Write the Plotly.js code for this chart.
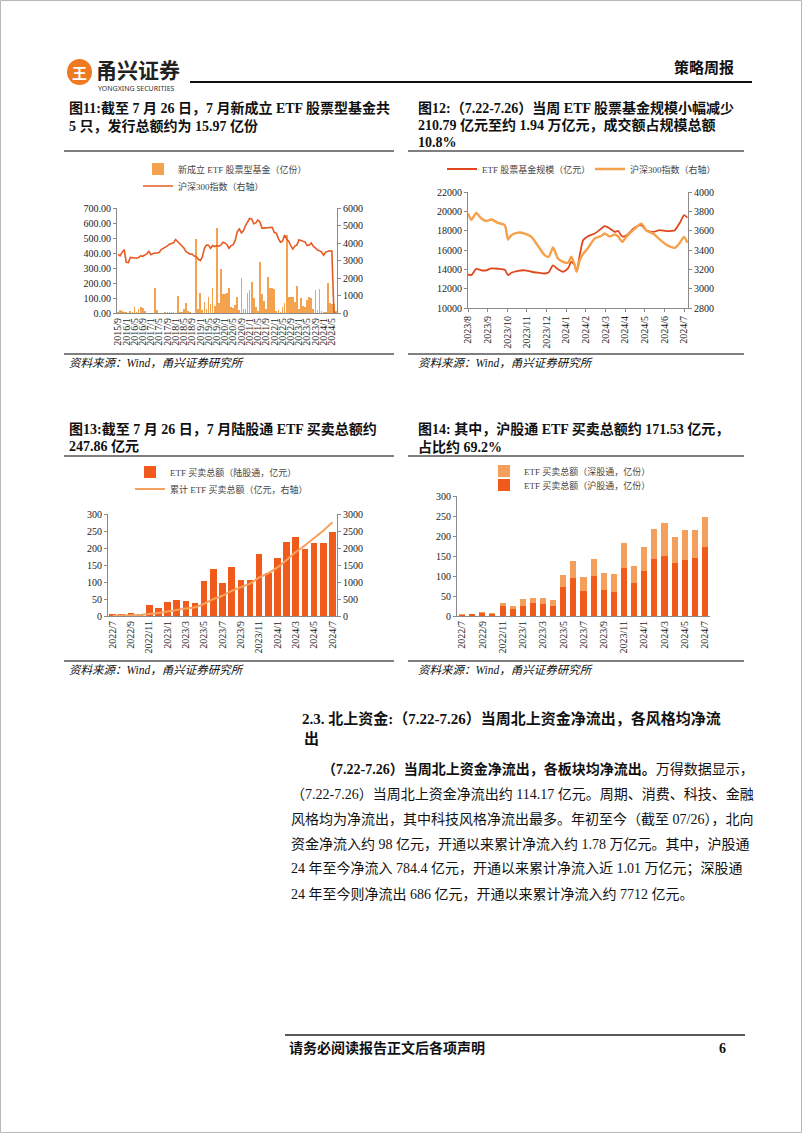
<!DOCTYPE html>
<html><head><meta charset="utf-8">
<script src="https://cdn.plot.ly/plotly-3.0.1.min.js"></script>
<style>html,body{margin:0;padding:0;background:#fff}#page{width:802px;height:1133px}</style>
</head><body><div id="page"></div>
<script>
// ---------- Figure 11: monthly new equity ETFs vs CSI300 ----------
const etfMonths = ['2015/9','2015/10','2015/11','2015/12',
 '2016/1','2016/2','2016/3','2016/4','2016/5','2016/6','2016/7','2016/8','2016/9','2016/10','2016/11','2016/12',
 '2017/1','2017/2','2017/3','2017/4','2017/5','2017/6','2017/7','2017/8','2017/9','2017/10','2017/11','2017/12',
 '2018/1','2018/2','2018/3','2018/4','2018/5','2018/6','2018/7','2018/8','2018/9','2018/10','2018/11','2018/12',
 '2019/1','2019/2','2019/3','2019/4','2019/5','2019/6','2019/7','2019/8','2019/9','2019/10','2019/11','2019/12',
 '2020/1','2020/2','2020/3','2020/4','2020/5','2020/6','2020/7','2020/8','2020/9','2020/10','2020/11','2020/12',
 '2021/1','2021/2','2021/3','2021/4','2021/5','2021/6','2021/7','2021/8','2021/9','2021/10','2021/11','2021/12',
 '2022/1','2022/2','2022/3','2022/4','2022/5','2022/6','2022/7','2022/8','2022/9','2022/10','2022/11','2022/12',
 '2023/1','2023/2','2023/3','2023/4','2023/5','2023/6','2023/7','2023/8','2023/9','2023/10','2023/11','2023/12',
 '2024/1','2024/2','2024/3','2024/4','2024/5','2024/6','2024/7'];
const etfNewFund = [5,20,16,9,4,0,11,8,38,10,
 25,42,35,15,0,0,0,3,164,20,
 0,0,0,5,8,6,10,5,0,113,
 5,10,25,69,15,5,0,0,491,30,
 131,20,75,25,108,60,164,50,569,70,
 293,130,125,135,164,40,35,53,108,20,
 231,30,25,131,153,209,98,40,15,342,
 130,80,30,238,164,164,160,15,20,10,
 40,70,520,108,108,108,75,180,30,98,
 50,40,87,108,98,30,153,20,158,15,
 10,10,198,64,60,60,15.97];
const hs300Monthly = [3350,3270,3480,3620,2900,2880,3180,3150,3150,3130,
 3170,3270,3240,3320,3380,3520,3330,3400,3420,3420,
 3460,3620,3680,3780,3830,3930,3990,4010,4200,4080,
 3910,3800,3720,3520,3440,3360,3370,3250,3230,3080,
 3000,3200,3700,3880,3870,3700,3860,3800,3850,3820,
 3880,4050,4000,3900,3700,3850,3900,4150,4650,4800,
 4580,4700,5000,5200,5400,5380,5100,5150,5320,5200,
 4850,4850,4860,4880,4850,4900,4600,4560,4250,4050,
 4100,4450,4220,4100,3850,3650,3820,3880,4180,4150,
 4080,4050,3850,3880,4000,3800,3720,3600,3560,3480,
 3300,3480,3520,3560,3540,0,0];

// ---------- Figure 12: ETF scale vs CSI300 (x = months since 2023/8) ----------
const scaleMonthTicks = ['2023/8','2023/9','2023/10','2023/11','2023/12','2024/1','2024/2','2024/3','2024/4','2024/5','2024/6','2024/7'];
const scalePos = [0,0.17,0.42,0.68,0.93,1.19,1.53,1.87,2.04,2.21,2.55,2.89,3.23,3.57,3.90,4.11,4.33,4.58,4.84,5.09,5.26,5.43,5.53,5.69,5.86,6.11,6.45,6.79,6.96,7.22,7.47,7.64,7.85,8.06,8.49,8.83,9.08,9.42,9.76,10.10,10.36,10.53,10.78,11.00,11.17];
const etfScale = [13470,13400,14050,13900,13900,14090,14060,13950,13400,13650,13850,13900,13750,13650,13570,13700,14400,14000,13750,14090,14780,14440,13800,15470,17010,17430,17700,18220,18460,18220,17875,17980,17400,17500,18320,18560,18050,17875,18050,17950,17980,18050,18800,19600,19350];
const hs300Daily = [3777,3712,3783,3725,3700,3715,3680,3658,3508,3553,3580,3570,3536,3440,3347,3330,3426,3312,3278,3268,3330,3244,3175,3295,3360,3420,3520,3545,3570,3540,3560,3540,3484,3536,3622,3673,3600,3570,3510,3455,3430,3422,3474,3536,3474];

// ---------- Figures 13 & 14: Stock Connect ETF turnover ----------
const connectMonths = ['2022/7','2022/8','2022/9','2022/10','2022/11','2022/12','2023/1','2023/2','2023/3','2023/4','2023/5','2023/6','2023/7','2023/8','2023/9','2023/10','2023/11','2023/12','2024/1','2024/2','2024/3','2024/4','2024/5','2024/6','2024/7'];
const connectTotal = [5,6,10,7,33,25,42,46,44,39,103,137,98,143,107,105,183,126,172,217,232,197,214,215,247.86];
const connectCumulative = [5,12,22,29,62,88,129,175,219,258,361,498,596,740,846,950,1133,1258,1430,1647,1880,2077,2292,2507,2755];
const shConnect = [3.5,4,8,5,24,18,25,33,31,25,73,94,62,100,65,60,120,83,113,143,150,133,140,146,171.53];
const szConnect = [1.5,2,2,2,9,7,17,13,13,14,30,43,36,43,42,45,63,43,59,74,82,64,74,69,76.33];

// ---------- layout helpers ----------
const W = 802, H = 1133;
const px = x => x / W, py = y => 1 - y / H;
const SERIF = "'Liberation Serif','Noto Sans CJK SC',serif";
const SANS = "'Noto Sans CJK SC','Noto Sans',sans-serif";
const AX = '#8a8a8a';
const tickFont = {family: SERIF, size: 10, color: '#222'};
function ax(o) {
  return Object.assign({showgrid:false, zeroline:false, showline:true, linecolor:AX, linewidth:1,
    ticks:'outside', ticklen:3, tickcolor:AX, tickfont:tickFont, fixedrange:true, exponentformat:'none'}, o);
}
function leg(xl, yc) {
  return {x:px(xl), y:py(yc), xanchor:'left', yanchor:'middle', bgcolor:'rgba(0,0,0,0)', borderwidth:0,
    font:{family:SERIF, size:9, color:'#444'}, itemwidth:30};
}
function txt(x, y, text, size, extra) {
  return Object.assign({xref:'paper', yref:'paper', x:px(x), y:py(y), xanchor:'left', yanchor:'middle',
    showarrow:false, text:text, font:{family:SERIF, size:size, color:'#111'}}, extra || {});
}
function hline(x0, x1, y, w, c) {
  return {type:'line', xref:'paper', yref:'paper', x0:px(x0), x1:px(x1), y0:py(y), y1:py(y), line:{color:c||'#555', width:w||1.5}};
}

const traces = [
  {type:'bar', x:etfMonths, y:etfNewFund, xaxis:'x', yaxis:'y', width:0.85, marker:{color:'#F5A24E'},
   name:'新成立 ETF 股票型基金（亿份）', legend:'legend'},
  {type:'scatter', mode:'lines', x:etfMonths, y:hs300Monthly, xaxis:'x', yaxis:'y2', line:{color:'#E65A24', width:1.6},
   name:'沪深300指数（右轴）', legend:'legend2'},
  {type:'scatter', mode:'lines', x:scalePos, y:etfScale, xaxis:'x2', yaxis:'y3', line:{color:'#E0471D', width:1.8, shape:'spline', smoothing:0.6},
   name:'ETF 股票基金规模（亿元）', legend:'legend3'},
  {type:'scatter', mode:'lines', x:scalePos, y:hs300Daily, xaxis:'x2', yaxis:'y4', line:{color:'#F5A04B', width:2.4, shape:'spline', smoothing:0.6},
   name:'沪深300指数（右轴）', legend:'legend4'},
  {type:'bar', x:connectMonths, y:connectTotal, xaxis:'x3', yaxis:'y5', width:0.72, marker:{color:'#F05A1A'},
   name:'ETF 买卖总额（陆股通，亿元）', legend:'legend5'},
  {type:'scatter', mode:'lines', x:connectMonths, y:connectCumulative, xaxis:'x3', yaxis:'y6', line:{color:'#F5A25E', width:2, shape:'spline', smoothing:0.5},
   name:'累计 ETF 买卖总额（亿元，右轴）', legend:'legend6'},
  {type:'bar', x:connectMonths, y:shConnect, xaxis:'x4', yaxis:'y7', width:0.6, marker:{color:'#F05A1A'},
   name:'ETF 买卖总额（沪股通，亿份）', legend:'legend8'},
  {type:'bar', x:connectMonths, y:szConnect, xaxis:'x4', yaxis:'y7', width:0.6, marker:{color:'#F4A05C'},
   name:'ETF 买卖总额（深股通，亿份）', legend:'legend7'}
];

const shapes = [
  {type:'rect', xref:'paper', yref:'paper', x0:0.0006, x1:0.9994, y0:0.0005, y1:0.9995, line:{color:'#b5b5b5', width:1}},
  hline(190, 752, 82, 2, '#111'),
  {type:'circle', xref:'paper', yref:'paper', x0:px(67), x1:px(92), y0:py(85), y1:py(59), fillcolor:'#EE7A22', line:{width:0}},
  hline(64, 394, 151), hline(408, 744, 151), hline(64, 394, 354), hline(408, 744, 354),
  hline(64, 394, 456), hline(408, 744, 456), hline(64, 394, 661), hline(408, 744, 661),
  hline(285, 745, 1035, 1.5, '#222')
];

const para = [
  [320, 769, '<b>（7.22-7.26）当周北上资金净流出，各板块均净流出。</b>万得数据显示，'],
  [289, 794, '（7.22-7.26）当周北上资金净流出约 114.17 亿元。周期、消费、科技、金融'],
  [289, 819, '风格均为净流出，其中科技风格净流出最多。年初至今（截至 07/26），北向'],
  [289, 844, '资金净流入约 98 亿元，开通以来累计净流入约 1.78 万亿元。其中，沪股通'],
  [289, 869, '24 年至今净流入 784.4 亿元，开通以来累计净流入近 1.01 万亿元；深股通'],
  [289, 894, '24 年至今则净流出 686 亿元，开通以来累计净流入约 7712 亿元。']
];

const annotations = [
  txt(79.5, 72.5, '<b>王</b>', 15, {xanchor:'center', font:{family:SANS, size:15, color:'#fff'}}),
  txt(94, 69.5, '<b>甬兴证券</b>', 21, {font:{family:SANS, size:21, color:'#222'}}),
  txt(96, 88.5, 'YONGXING SECURITIES', 7, {font:{family:"'Noto Sans',sans-serif", size:7, color:'#333'}}),
  txt(736, 68, '<b>策略周报</b>', 15, {xanchor:'right'}),
  txt(67, 108, '<b>图11:截至 7 月 26 日，7 月新成立 ETF 股票型基金共</b>', 14),
  txt(67, 126, '<b>5 只，发行总额约为 15.97 亿份</b>', 14),
  txt(416, 108, '<b>图12:（7.22-7.26）当周 ETF 股票基金规模小幅减少</b>', 14),
  txt(416, 125, '<b>210.79 亿元至约 1.94 万亿元，成交额占规模总额</b>', 14),
  txt(416, 142, '<b>10.8%</b>', 14),
  txt(67, 429, '<b>图13:截至 7 月 26 日，7 月陆股通 ETF 买卖总额约</b>', 14),
  txt(67, 446, '<b>247.86 亿元</b>', 14),
  txt(416, 429, '<b>图14: 其中，沪股通 ETF 买卖总额约 171.53 亿元，</b>', 14),
  txt(416, 447, '<b>占比约 69.2%</b>', 14),
  txt(67, 363, '<i>资料来源：Wind，甬兴证券研究所</i>', 11.5),
  txt(416, 363, '<i>资料来源：Wind，甬兴证券研究所</i>', 11.5),
  txt(67, 670, '<i>资料来源：Wind，甬兴证券研究所</i>', 11.5),
  txt(416, 670, '<i>资料来源：Wind，甬兴证券研究所</i>', 11.5),
  txt(300, 718, '<b>2.3. 北上资金:（7.22-7.26）当周北上资金净流出，各风格均净流</b>', 15),
  txt(302, 739, '<b>出</b>', 15),
  txt(287, 1048, '<b>请务必阅读报告正文后各项声明</b>', 14),
  txt(722, 1048, '<b>6</b>', 14, {xanchor:'center'})
].concat(para.map(p => txt(p[0], p[1], p[2], 14)));

const layout = {
  width: W, height: H, margin:{l:0, r:0, t:0, b:0}, paper_bgcolor:'#fff', plot_bgcolor:'rgba(0,0,0,0)',
  barmode:'stack', showlegend:true, font:{family:SERIF, color:'#222'},
  xaxis: ax({domain:[px(117), px(337)], anchor:'y', type:'category', tickmode:'array',
    tickvals: etfMonths.filter((m, i) => i % 4 === 0), tickangle:-90, ticks:''}),
  yaxis: ax({domain:[py(313), py(208)], anchor:'x', range:[0, 700], dtick:100, tickformat:'.2f'}),
  yaxis2: ax({overlaying:'y', side:'right', anchor:'x', range:[0, 6000], dtick:1000, tickformat:'d'}),
  xaxis2: ax({domain:[px(468), px(688)], anchor:'y3', type:'linear', range:[0, 11.2], tickmode:'array',
    tickvals: scaleMonthTicks.map((m, i) => i), ticktext: scaleMonthTicks, tickangle:-90}),
  yaxis3: ax({domain:[py(308), py(192)], anchor:'x2', range:[10000, 22000], dtick:2000, tickformat:'d'}),
  yaxis4: ax({overlaying:'y3', side:'right', anchor:'x2', range:[2800, 4000], dtick:200, tickformat:'d'}),
  xaxis3: ax({domain:[px(108), px(337)], anchor:'y5', type:'category', tickmode:'array',
    tickvals: connectMonths.filter((m, i) => i % 2 === 0), tickangle:-90, ticks:''}),
  yaxis5: ax({domain:[py(616), py(514)], anchor:'x3', range:[0, 300], dtick:50}),
  yaxis6: ax({overlaying:'y5', side:'right', anchor:'x3', range:[0, 3000], dtick:500, tickformat:'d'}),
  xaxis4: ax({domain:[px(457), px(710)], anchor:'y7', type:'category', tickmode:'array',
    tickvals: connectMonths.filter((m, i) => i % 2 === 0), tickangle:-90, ticks:''}),
  yaxis7: ax({domain:[py(616), py(496)], anchor:'x4', range:[0, 300], dtick:50}),
  legend: leg(138, 169), legend2: leg(138, 186),
  legend3: leg(442, 169), legend4: leg(590, 169),
  legend5: leg(130, 472), legend6: leg(130, 489),
  legend7: leg(484, 471), legend8: leg(484, 485),
  shapes: shapes, annotations: annotations
};

Plotly.newPlot('page', traces, layout, {staticPlot:true, displayModeBar:false});
</script></body></html>
